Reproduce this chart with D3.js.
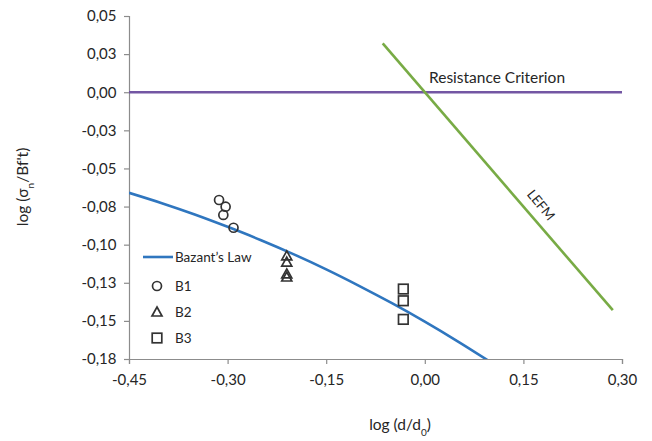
<!DOCTYPE html>
<html><head><meta charset="utf-8">
<script src="https://cdn.jsdelivr.net/npm/d3@7"></script>
<style>body{margin:0;background:#fff}svg{display:block}text{font-family:Lato,"Open Sans",sans-serif;fill:#262626}</style>
</head><body><svg id="c" width="652" height="441"></svg>
<script>
// ---- data ----
const xTicks = [-0.45, -0.30, -0.15, 0.00, 0.15, 0.30];
const xTickLabels = ["-0,45", "-0,30", "-0,15", "0,00", "0,15", "0,30"];
const yTicks = [0.05, 0.025, 0, -0.025, -0.05, -0.075, -0.10, -0.125, -0.15, -0.175];
const yTickLabels = ["0,05", "0,03", "0,00", "-0,03", "-0,05", "-0,08", "-0,10", "-0,13", "-0,15", "-0,18"];
const bazantX = [-0.45, -0.40, -0.35, -0.30, -0.25, -0.20, -0.15, -0.10, -0.05, 0.00, 0.05, 0.10];
const bazantY = [-0.0660, -0.0728, -0.0802, -0.0883, -0.0969, -0.1062, -0.1162, -0.1270, -0.1384, -0.1505, -0.1634, -0.1770];
const resistX = [-0.45, 0.30];
const resistY = [0, 0];
const lefmX = [-0.064, 0.286];
const lefmY = [0.032, -0.143];
const b1X = [-0.313, -0.303, -0.3065, -0.291];
const b1Y = [-0.0707, -0.0751, -0.0805, -0.0889];
const b2X = [-0.210, -0.210, -0.210, -0.210];
const b2Y = [-0.1074, -0.1114, -0.1192, -0.1212];
const b3X = [-0.0327, -0.0327, -0.0327];
const b3Y = [-0.1291, -0.1368, -0.1490];

// ---- layout ----
const svg = d3.select("#c");
const L = 129, R = 622, T = 16, B = 359;
const x = d3.scaleLinear().domain([-0.45, 0.30]).range([L, R]);
const y = d3.scaleLinear().domain([0.05, -0.175]).range([T, B]);
const axisCol = "#8c8c8c";

svg.append("defs").append("clipPath").attr("id", "pc")
  .append("rect").attr("x", L).attr("y", T - 20).attr("width", R - L + 2).attr("height", B - T + 20);

// axes
const xa = svg.append("g").attr("transform", `translate(0,${B})`)
  .call(d3.axisBottom(x).tickValues(xTicks).tickSize(5).tickFormat((d, i) => xTickLabels[i]));
const ya = svg.append("g").attr("transform", `translate(${L},0)`)
  .call(d3.axisLeft(y).tickValues(yTicks).tickSize(5).tickFormat((d, i) => yTickLabels[i]));
[xa, ya].forEach(g => {
  g.select(".domain").attr("stroke", axisCol).attr("stroke-width", 1.2);
  g.selectAll(".tick line").attr("stroke", axisCol).attr("stroke-width", 1.2);
  g.selectAll(".tick text").style("font-size", "15px").attr("fill", "#262626");
});
xa.selectAll(".tick text").attr("dy", "1.2em");
ya.selectAll(".tick text").attr("dx", "-0.3em");

// lines
const plot = svg.append("g").attr("clip-path", "url(#pc)");
const line = d3.line().x(d => x(d[0])).y(d => y(d[1]));
plot.append("path").datum(resistX.map((v, i) => [v, resistY[i]]))
  .attr("d", line).attr("stroke", "#7356a3").attr("stroke-width", 2.6).attr("fill", "none");
plot.append("path").datum(lefmX.map((v, i) => [v, lefmY[i]]))
  .attr("d", line).attr("stroke", "#78ab45").attr("stroke-width", 2.6).attr("fill", "none");
plot.append("path").datum(bazantX.map((v, i) => [v, bazantY[i]]))
  .attr("d", d3.line().x(d => x(d[0])).y(d => y(d[1])).curve(d3.curveCatmullRom))
  .attr("stroke", "#2f76bf").attr("stroke-width", 2.6).attr("fill", "none");

// markers
const mk = "#333";
function circ(g, cx, cy) { g.append("circle").attr("cx", cx).attr("cy", cy).attr("r", 4.5).attr("fill", "none").attr("stroke", mk).attr("stroke-width", 1.7); }
function tri(g, cx, cy) { const s = 5; g.append("path").attr("d", `M${cx},${cy - s}L${cx + s},${cy + s * 0.8}L${cx - s},${cy + s * 0.8}Z`).attr("fill", "none").attr("stroke", mk).attr("stroke-width", 1.7); }
function sq(g, cx, cy) { const s = 4.8; g.append("rect").attr("x", cx - s).attr("y", cy - s).attr("width", 2 * s).attr("height", 2 * s).attr("fill", "none").attr("stroke", mk).attr("stroke-width", 1.7); }
const mg = svg.append("g");
b1X.forEach((v, i) => circ(mg, x(v), y(b1Y[i])));
b2X.forEach((v, i) => tri(mg, x(v), y(b2Y[i])));
b3X.forEach((v, i) => sq(mg, x(v), y(b3Y[i])));

// legend
const lg = svg.append("g");
lg.append("line").attr("x1", 143).attr("x2", 173).attr("y1", 257).attr("y2", 257).attr("stroke", "#2f76bf").attr("stroke-width", 2.6);
lg.append("text").attr("x", 175).attr("y", 261.5).style("font-size", "13.5px").text("Bazant’s Law");
circ(lg, 157, 286); lg.append("text").attr("x", 175).attr("y", 290.5).style("font-size", "13.5px").text("B1");
tri(lg, 157, 312); lg.append("text").attr("x", 175).attr("y", 316.5).style("font-size", "13.5px").text("B2");
sq(lg, 157, 338); lg.append("text").attr("x", 175).attr("y", 342.5).style("font-size", "13.5px").text("B3");

// annotations
svg.append("text").attr("x", 429).attr("y", 83).style("font-size", "15.5px").text("Resistance Criterion");
svg.append("text").attr("transform", "translate(541,205) rotate(51)").attr("text-anchor", "middle")
  .attr("dy", "0.35em").style("font-size", "13.5px").text("LEFM");

// axis titles
const xt = svg.append("text").attr("x", 400).attr("y", 430).attr("text-anchor", "middle").style("font-size", "15.5px");
xt.append("tspan").text("log (d/d");
xt.append("tspan").attr("baseline-shift", "sub").style("font-size", "10px").text("0");
xt.append("tspan").text(")");
const yt = svg.append("text").attr("transform", "translate(28,187) rotate(-90)").attr("text-anchor", "middle").style("font-size", "15.5px");
yt.append("tspan").text("log (σ");
yt.append("tspan").attr("baseline-shift", "sub").style("font-size", "10px").text("n");
yt.append("tspan").text("/Bf't)");
</script></body></html>
